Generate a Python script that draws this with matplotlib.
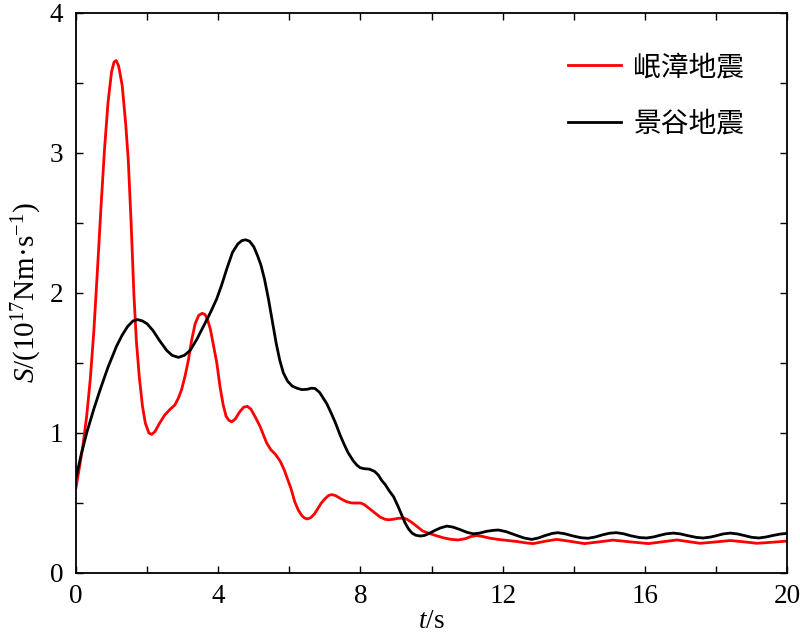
import matplotlib
matplotlib.use("Agg")
import matplotlib.pyplot as plt

plt.rcParams['font.family'] = ['Liberation Serif', 'Noto Sans CJK SC', 'DejaVu Sans']
plt.rcParams['mathtext.fontset'] = 'custom'
plt.rcParams['mathtext.rm'] = 'Liberation Serif'
plt.rcParams['mathtext.it'] = 'Liberation Serif:italic'

# 岷漳地震 (red)
t_mz = [0, 0.1, 0.2, 0.3, 0.4, 0.5, 0.6, 0.7, 0.8, 0.9, 1.0, 1.07, 1.13, 1.2, 1.3, 1.4, 1.47, 1.55,
        1.63, 1.7, 1.78, 1.87, 1.95, 2.05, 2.13, 2.22, 2.35, 2.5, 2.65, 2.78, 2.88, 2.97, 3.07, 3.16,
        3.25, 3.35, 3.45, 3.55, 3.63, 3.7, 3.78, 3.87, 3.96, 4.05, 4.14, 4.22, 4.3, 4.38, 4.48, 4.6,
        4.72, 4.82, 4.92, 5.05, 5.18, 5.28, 5.36, 5.48, 5.6, 5.74, 5.85, 5.95, 6.05, 6.15, 6.25, 6.35,
        6.43, 6.51, 6.6, 6.7, 6.8, 6.9, 7.0, 7.1, 7.19, 7.3, 7.45, 7.6, 7.75, 7.9, 8.0, 8.1, 8.25,
        8.4, 8.55, 8.7, 8.79, 8.9, 9.05, 9.2, 9.3, 9.45, 9.6, 9.75, 9.96, 10.15, 10.35, 10.55, 10.75,
        10.95, 11.1, 11.27, 11.45, 11.65, 11.93, 12.15, 12.4, 12.65, 12.86, 13.2, 13.52, 13.9, 14.3,
        14.7, 15.1, 15.6, 16.1, 16.5, 16.9, 17.2, 17.55, 18.0, 18.4, 18.8, 19.15, 19.6, 20.0]
s_mz = [0.61, 0.76, 0.92, 1.12, 1.38, 1.72, 2.15, 2.6, 3.02, 3.36, 3.58, 3.65, 3.66, 3.62, 3.48, 3.2,
        2.95, 2.5, 1.98, 1.65, 1.4, 1.19, 1.07, 1.0, 0.99, 1.01, 1.07, 1.13, 1.17, 1.2, 1.25, 1.31, 1.41,
        1.52, 1.66, 1.78, 1.84, 1.855, 1.845, 1.81, 1.74, 1.62, 1.5, 1.33, 1.2, 1.12, 1.09, 1.08, 1.1,
        1.15, 1.185, 1.19, 1.17, 1.11, 1.045, 0.98, 0.93, 0.88, 0.85, 0.8, 0.74, 0.67, 0.6, 0.51, 0.45,
        0.41, 0.392, 0.386, 0.395, 0.42, 0.46, 0.5, 0.53, 0.553, 0.56, 0.553, 0.53, 0.51, 0.5, 0.5, 0.5,
        0.49, 0.46, 0.43, 0.4, 0.383, 0.38, 0.383, 0.39, 0.392, 0.385, 0.36, 0.33, 0.3, 0.28, 0.265,
        0.25, 0.24, 0.236, 0.245, 0.26, 0.268, 0.26, 0.248, 0.238, 0.232, 0.225, 0.215, 0.21, 0.227,
        0.24, 0.226, 0.21, 0.222, 0.235, 0.222, 0.21, 0.223, 0.236, 0.225, 0.212, 0.222, 0.232, 0.222,
        0.212, 0.22, 0.228]

# 景谷地震 (black)
t_jg = [0, 0.15, 0.3, 0.5, 0.68, 0.9, 1.14, 1.3, 1.45, 1.6, 1.73, 1.87, 2.0, 2.17, 2.35, 2.55, 2.7,
        2.88, 3.05, 3.21, 3.4, 3.58, 3.78, 3.96, 4.1, 4.25, 4.4, 4.55, 4.67, 4.77, 4.88, 5.0, 5.1, 5.2,
        5.3, 5.41, 5.52, 5.63, 5.73, 5.83, 5.95, 6.08, 6.21, 6.35, 6.5, 6.62, 6.72, 6.85, 6.95, 7.05,
        7.18, 7.3, 7.42, 7.52, 7.65, 7.8, 7.9, 7.99, 8.1, 8.25, 8.4, 8.5, 8.6, 8.7, 8.8, 8.93, 9.05,
        9.15, 9.25, 9.35, 9.45, 9.55, 9.68, 9.8, 9.95, 10.1, 10.25, 10.43, 10.6, 10.8, 11.0, 11.17,
        11.35, 11.55, 11.75, 11.88, 12.1, 12.35, 12.6, 12.82, 13.0, 13.2, 13.4, 13.55, 13.75, 13.95,
        14.2, 14.4, 14.6, 14.8, 15.0, 15.2, 15.4, 15.6, 15.85, 16.05, 16.25, 16.4, 16.6, 16.8, 17.0,
        17.2, 17.45, 17.64, 17.85, 18.0, 18.2, 18.4, 18.6, 18.8, 19.0, 19.2, 19.4, 19.6, 19.8, 20.0]
s_jg = [0.68, 0.85, 1.0, 1.17, 1.31, 1.47, 1.62, 1.7, 1.76, 1.8, 1.81, 1.8, 1.78, 1.73, 1.66, 1.59,
        1.555, 1.54, 1.555, 1.59, 1.67, 1.76, 1.86, 1.96, 2.06, 2.18, 2.29, 2.35, 2.375, 2.38, 2.37,
        2.33, 2.27, 2.2, 2.1, 1.96, 1.8, 1.64, 1.52, 1.43, 1.37, 1.335, 1.32, 1.31, 1.312, 1.32, 1.318,
        1.29, 1.25, 1.21, 1.14, 1.07, 0.99, 0.93, 0.86, 0.8, 0.77, 0.752, 0.745, 0.742, 0.725, 0.7,
        0.66, 0.63, 0.59, 0.545, 0.48, 0.42, 0.36, 0.315, 0.285, 0.27, 0.264, 0.268, 0.285, 0.305,
        0.322, 0.335, 0.328, 0.31, 0.29, 0.28, 0.285, 0.298, 0.305, 0.307, 0.295, 0.272, 0.25, 0.24,
        0.25, 0.268, 0.283, 0.288, 0.28, 0.266, 0.252, 0.248, 0.257, 0.272, 0.284, 0.288, 0.28, 0.266,
        0.253, 0.25, 0.258, 0.268, 0.28, 0.285, 0.279, 0.267, 0.254, 0.25, 0.257, 0.266, 0.279, 0.285,
        0.279, 0.267, 0.255, 0.25, 0.257, 0.268, 0.278, 0.283]

labels = ['岷漳地震', '景谷地震']
x_ticks = [0, 4, 8, 12, 16, 20]
y_ticks = [0, 1, 2, 3, 4]

fig = plt.figure(figsize=(8, 6.4), dpi=100)
ax = fig.add_axes([0.095, 0.1047, 0.889, 0.875])

ax.plot(t_mz, s_mz, color='#ff0000', lw=2.0, label=labels[0], solid_joinstyle='round')
ax.plot(t_jg, s_jg, color='black', lw=2.0, label=labels[1], solid_joinstyle='round')

ax.set_xlim(0, 20)
ax.set_ylim(0, 4)
ax.set_xticks(x_ticks)
ax.set_yticks(y_ticks)
ax.set_xticks([2, 6, 10, 14, 18], minor=True)
ax.set_yticks([0.5, 1.5, 2.5, 3.5], minor=True)
ax.tick_params(which='both', direction='in', top=True, right=True, length=5, width=1.0,
               labelsize=19.5)
ax.tick_params(axis='x', which='major', pad=8)
ax.tick_params(axis='y', which='major', pad=9)
for sp in ax.spines.values():
    sp.set_linewidth(1.3)

ax.set_xlabel(r'$t$/s', fontsize=19.5, labelpad=0)
ax.set_ylabel(r'$S$/(10$^{17}$Nm·s$^{-1}$)', fontsize=21, labelpad=4)

leg = ax.legend(loc='upper right', bbox_to_anchor=(0.975, 0.975), frameon=False,
                prop={'family': ['Noto Sans CJK SC'], 'size': 20},
                handlelength=1.9, handletextpad=0.45, labelspacing=0.95)

fig.savefig('out.png', dpi=100)
